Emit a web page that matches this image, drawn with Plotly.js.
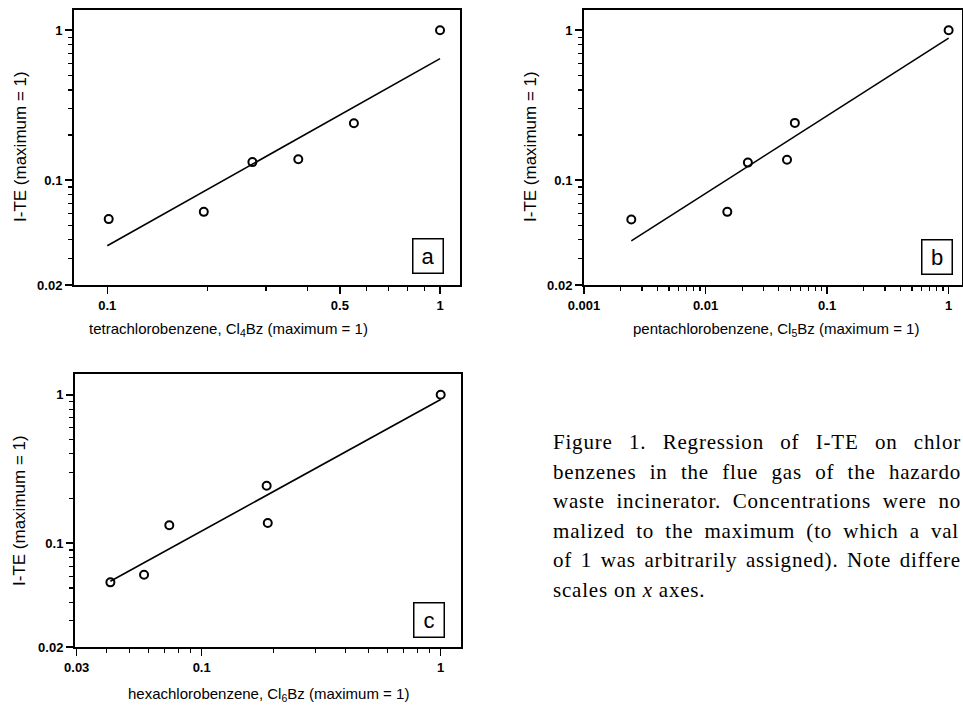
<!DOCTYPE html>
<html>
<head>
<meta charset="utf-8">
<script src="https://cdn.plot.ly/plotly-3.0.1.min.js"></script>
<style>
html,body{margin:0;padding:0;background:#fff;overflow:hidden;}
#chart{width:963px;height:706px;}
</style>
</head>
<body>
<div id="chart"></div>
<script>
// ---- data ----
var tetraX = [0.101, 0.195, 0.273, 0.375, 0.551, 1];        // Cl4Bz (maximum = 1)
var tetraITE = [0.055, 0.0615, 0.132, 0.138, 0.24, 1];       // I-TE (maximum = 1)
var tetraFitX = [0.1, 1];
var tetraFitY = [0.0365, 0.647];

var pentaX = [0.00245, 0.0151, 0.0223, 0.0468, 0.0543, 1];  // Cl5Bz
var pentaITE = [0.0547, 0.0615, 0.131, 0.137, 0.241, 1];
var pentaFitX = [0.00245, 1];
var pentaFitY = [0.0394, 0.885];

var hexaX = [0.0415, 0.0574, 0.0732, 0.187, 0.189, 1];      // Cl6Bz
var hexaITE = [0.0545, 0.0613, 0.132, 0.244, 0.137, 1];
var hexaFitX = [0.0415, 1];
var hexaFitY = [0.0554, 0.93];

// tick labels
var yTickVals = [0.02, 0.1, 1];
var yTickText = ["0.02", "0.1", "1"];
var yMinorVals = [0.03,0.04,0.05,0.06,0.07,0.08,0.09,0.2,0.3,0.4,0.5,0.6,0.7,0.8,0.9];
var xaTickVals = [0.1, 0.5, 1];
var xaTickText = ["0.1", "0.5", "1"];
var xaMinorVals = [0.2,0.3,0.4,0.6,0.7,0.8,0.9];
var xbTickVals = [0.001, 0.01, 0.1, 1];
var xbTickText = ["0.001", "0.01", "0.1", "1"];
var xbMinorVals = [0.002,0.003,0.004,0.005,0.006,0.007,0.008,0.009,
                   0.02,0.03,0.04,0.05,0.06,0.07,0.08,0.09,
                   0.2,0.3,0.4,0.5,0.6,0.7,0.8,0.9];
var xcTickVals = [0.03, 0.1, 1];
var xcTickText = ["0.03", "0.1", "1"];
var xcMinorVals = [0.04,0.05,0.06,0.07,0.08,0.09,0.2,0.3,0.4,0.5,0.6,0.7,0.8,0.9];

var panelLabels = ["a", "b", "c"];
var xTitles = ["tetrachlorobenzene, Cl<sub>4</sub>Bz (maximum = 1)",
               "pentachlorobenzene, Cl<sub>5</sub>Bz (maximum = 1)",
               "hexachlorobenzene, Cl<sub>6</sub>Bz (maximum = 1)"];
var yTitle = "I-TE (maximum = 1)";
var captionLines = [
  "Figure 1. Regression of I-TE on chlor",
  "benzenes in the flue gas of the hazardo",
  "waste incinerator. Concentrations were no",
  "malized to the maximum (to which a val",
  "of 1 was arbitrarily assigned). Note differe",
  "scales on <i>x</i> axes."
];

// ---- styling / layout ----
var W = 963, H = 706;
function px(x){ return x / W; }
function py(y){ return 1 - y / H; }

var marker = {symbol: 'circle-open', size: 8, color: '#000', line: {width: 2, color: '#000'}};
var fitLine = {color: '#000', width: 1.6};

var traces = [
  {x: tetraFitX, y: tetraFitY, mode: 'lines', line: fitLine, xaxis: 'x', yaxis: 'y', hoverinfo: 'skip'},
  {x: tetraX, y: tetraITE, mode: 'markers', marker: marker, xaxis: 'x', yaxis: 'y'},
  {x: pentaFitX, y: pentaFitY, mode: 'lines', line: fitLine, xaxis: 'x2', yaxis: 'y2', hoverinfo: 'skip'},
  {x: pentaX, y: pentaITE, mode: 'markers', marker: marker, xaxis: 'x2', yaxis: 'y2'},
  {x: hexaFitX, y: hexaFitY, mode: 'lines', line: fitLine, xaxis: 'x3', yaxis: 'y3', hoverinfo: 'skip'},
  {x: hexaX, y: hexaITE, mode: 'markers', marker: marker, xaxis: 'x3', yaxis: 'y3'}
];

var tickFont = {family: 'Liberation Sans, Arial, sans-serif', size: 13, color: '#000', weight: 'bold'};

function axisBase(domain, range, tv, tt, mv){
  return {
    type: 'log', domain: domain, range: range, autorange: false,
    showgrid: false, zeroline: false,
    showline: true, linewidth: 2, linecolor: '#000', mirror: true,
    ticks: 'outside', ticklen: 7, tickwidth: 1.5, tickcolor: '#000',
    tickmode: 'array', tickvals: tv, ticktext: tt,
    tickfont: tickFont,
    minor: {tickmode: 'array', tickvals: mv, ticks: 'outside', ticklen: 4, tickwidth: 1.2, tickcolor: '#000', showgrid: false},
    fixedrange: true
  };
}

var layout = {
  width: W, height: H,
  margin: {l: 0, r: 0, t: 0, b: 0},
  paper_bgcolor: '#fff', plot_bgcolor: '#fff',
  showlegend: false,
  xaxis:  Object.assign(axisBase([px(74), px(460)], [-1.100, 0.060], xaTickVals, xaTickText, xaMinorVals), {anchor: 'y'}),
  yaxis:  Object.assign(axisBase([py(285), py(10)], [-1.699, 0.135], yTickVals, yTickText, yMinorVals), {anchor: 'x'}),
  xaxis2: Object.assign(axisBase([px(584), px(962)], [-3.0, 0.11], xbTickVals, xbTickText, xbMinorVals), {anchor: 'y2'}),
  yaxis2: Object.assign(axisBase([py(285), py(10)], [-1.699, 0.135], yTickVals, yTickText, yMinorVals), {anchor: 'x2'}),
  xaxis3: Object.assign(axisBase([px(75), px(461)], [-1.530, 0.085], xcTickVals, xcTickText, xcMinorVals), {anchor: 'y3'}),
  yaxis3: Object.assign(axisBase([py(647), py(374)], [-1.699, 0.14], yTickVals, yTickText, yMinorVals), {anchor: 'x3'}),
  annotations: []
};

var titleFont = {family: 'Liberation Sans, Arial, sans-serif', size: 15, color: '#000'};
var yTitleFont = {family: 'Liberation Sans, Arial, sans-serif', size: 17, color: '#000'};

// x axis titles
var xTitlePos = [[228, 329], [776, 329], [268, 694]];
xTitles.forEach(function(t, i){
  layout.annotations.push({text: t, xref: 'paper', yref: 'paper', x: px(xTitlePos[i][0]), y: py(xTitlePos[i][1]),
    xanchor: 'center', yanchor: 'middle', showarrow: false, font: titleFont});
});
// y axis titles
var yTitlePos = [[20, 147], [530, 147], [20, 511]];
yTitlePos.forEach(function(p){
  layout.annotations.push({text: yTitle, xref: 'paper', yref: 'paper', x: px(p[0]), y: py(p[1]),
    xanchor: 'center', yanchor: 'middle', textangle: -90, showarrow: false, font: yTitleFont});
});
// panel label boxes
var labelPos = [[428, 256], [937, 257], [428.5, 620]];
panelLabels.forEach(function(l, i){
  layout.annotations.push({text: l, xref: 'paper', yref: 'paper', x: px(labelPos[i][0]), y: py(labelPos[i][1]),
    xanchor: 'center', yanchor: 'middle', showarrow: false, width: 27, height: 31,
    bordercolor: '#000', borderwidth: 1.5, borderpad: 1, bgcolor: '#fff',
    font: {family: 'Liberation Sans, Arial, sans-serif', size: 22, color: '#000'}});
});
// caption (justified block reaching the right page edge)
var capStart = layout.annotations.length;
var capY = [442, 471.5, 501, 530.5, 560, 589.5];
var capRight = [961, 961, 961, 959, 961, null];
captionLines.forEach(function(t, i){
  layout.annotations.push({text: t, xref: 'paper', yref: 'paper', x: px(551), y: py(capY[i]),
    xanchor: 'left', yanchor: 'middle', align: 'left', showarrow: false,
    font: {family: 'Liberation Serif, Times New Roman, serif', size: 21, color: '#000'}});
});

Plotly.newPlot('chart', traces, layout, {displayModeBar: false, staticPlot: true}).then(function(gd){
  var host = gd.getBoundingClientRect();
  captionLines.forEach(function(t, i){
    var el = gd.querySelector('g.annotation[data-index="' + (capStart + i) + '"] text.annotation-text');
    if(!el) return;
    el.style.letterSpacing = '0.8px';
    if(capRight[i] === null) return;
    var nsp = (el.textContent.match(/ /g) || []).length;
    var ws = 0;
    for(var k = 0; k < 3; k++){
      var r = el.getBoundingClientRect().right - host.left;
      ws += (capRight[i] - r) / nsp;
      el.style.wordSpacing = ws + 'px';
    }
  });
});
</script>
</body>
</html>
